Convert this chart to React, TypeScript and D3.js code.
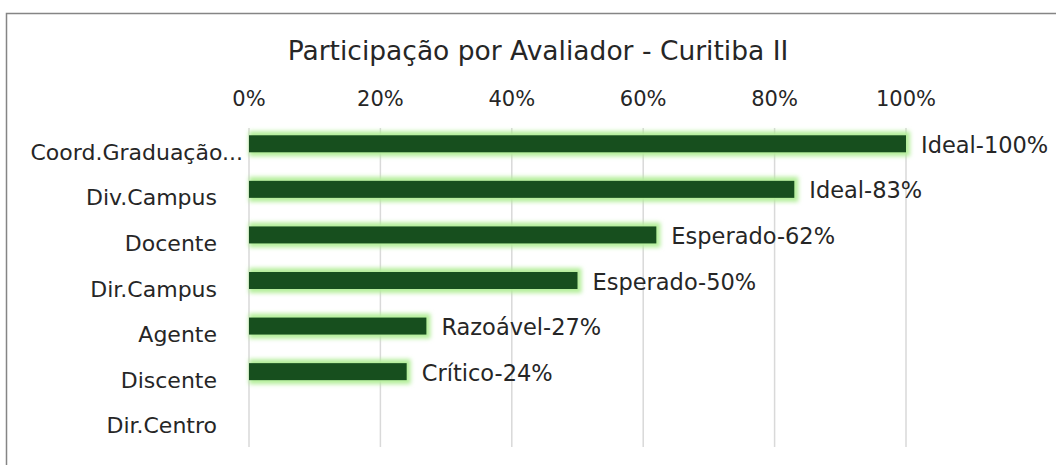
import React from "react";
import * as d3 from "d3";

const categories = ["Coord.Graduação...", "Div.Campus", "Docente", "Dir.Campus", "Agente", "Discente", "Dir.Centro"];
const values = [100, 83, 62, 50, 27, 24, null];
const labels = ["Ideal-100%", "Ideal-83%", "Esperado-62%", "Esperado-50%", "Razoável-27%", "Crítico-24%", ""];
const ticks = [0, 20, 40, 60, 80, 100];

const W = 1056;
const H = 465;
const font = "'DejaVu Sans', sans-serif";
const textColor = "#262626";

export default function App() {
  const x = d3.scaleLinear().domain([0, 100]).range([249, 906]);
  const y = d3.scaleBand().domain(categories).range([129, 448]);
  const barH = 17;

  return (
    <svg width={W} height={H} style={{ position: "absolute", left: 0, top: 0, background: "#fff" }}>
      <defs>
        <filter id="glow" x="-10%" y="-80%" width="120%" height="260%">
          <feGaussianBlur stdDeviation="2" />
        </filter>
      </defs>
      {/* chart border */}
      <path d={`M6.5,${H} V13.5 H${W}`} fill="none" stroke="#858585" strokeWidth={1.5} />

      <text x={538} y={60} textAnchor="middle" fontFamily={font} fontSize={26.5} fill={textColor}>
        Participação por Avaliador - Curitiba II
      </text>

      {/* gridlines */}
      {ticks.map((t) => (
        <line key={t} x1={x(t)} x2={x(t)} y1={128} y2={447} stroke="#d9d9d9" strokeWidth={1.5} />
      ))}
      {ticks.map((t) => (
        <text key={"l" + t} x={x(t)} y={106} textAnchor="middle" fontFamily={font} fontSize={21} fill={textColor}>
          {t}%
        </text>
      ))}

      {/* bars */}
      {categories.map((c, i) => {
        const v = values[i];
        if (v == null) return null;
        const cy = y(c)! + y.bandwidth() / 2 - 8;
        return (
          <g key={c}>
            <rect x={x(0)} y={cy - barH / 2 - 4} width={x(v) - x(0) + 4} height={barH + 8} fill="#b4ee9a" filter="url(#glow)" />
            <rect x={x(0)} y={cy - barH / 2} width={x(v) - x(0)} height={barH} fill="#174f1e" />
          </g>
        );
      })}

      {/* category labels (truncated one fills the label area) */}
      {categories.map((c) => (
        <text key={"c" + c} x={c.endsWith("...") ? 243 : 217} y={y(c)! + y.bandwidth() / 2 + 8} textAnchor="end" fontFamily={font} fontSize={22} fill={textColor}>
          {c}
        </text>
      ))}

      {/* data labels */}
      {categories.map((c, i) => {
        const v = values[i];
        if (v == null) return null;
        const cy = y(c)! + y.bandwidth() / 2 - 8;
        return (
          <text key={"d" + c} x={x(v) + 15} y={cy + 9} fontFamily={font} fontSize={22.5} fill={textColor}>
            {labels[i]}
          </text>
        );
      })}
    </svg>
  );
}
